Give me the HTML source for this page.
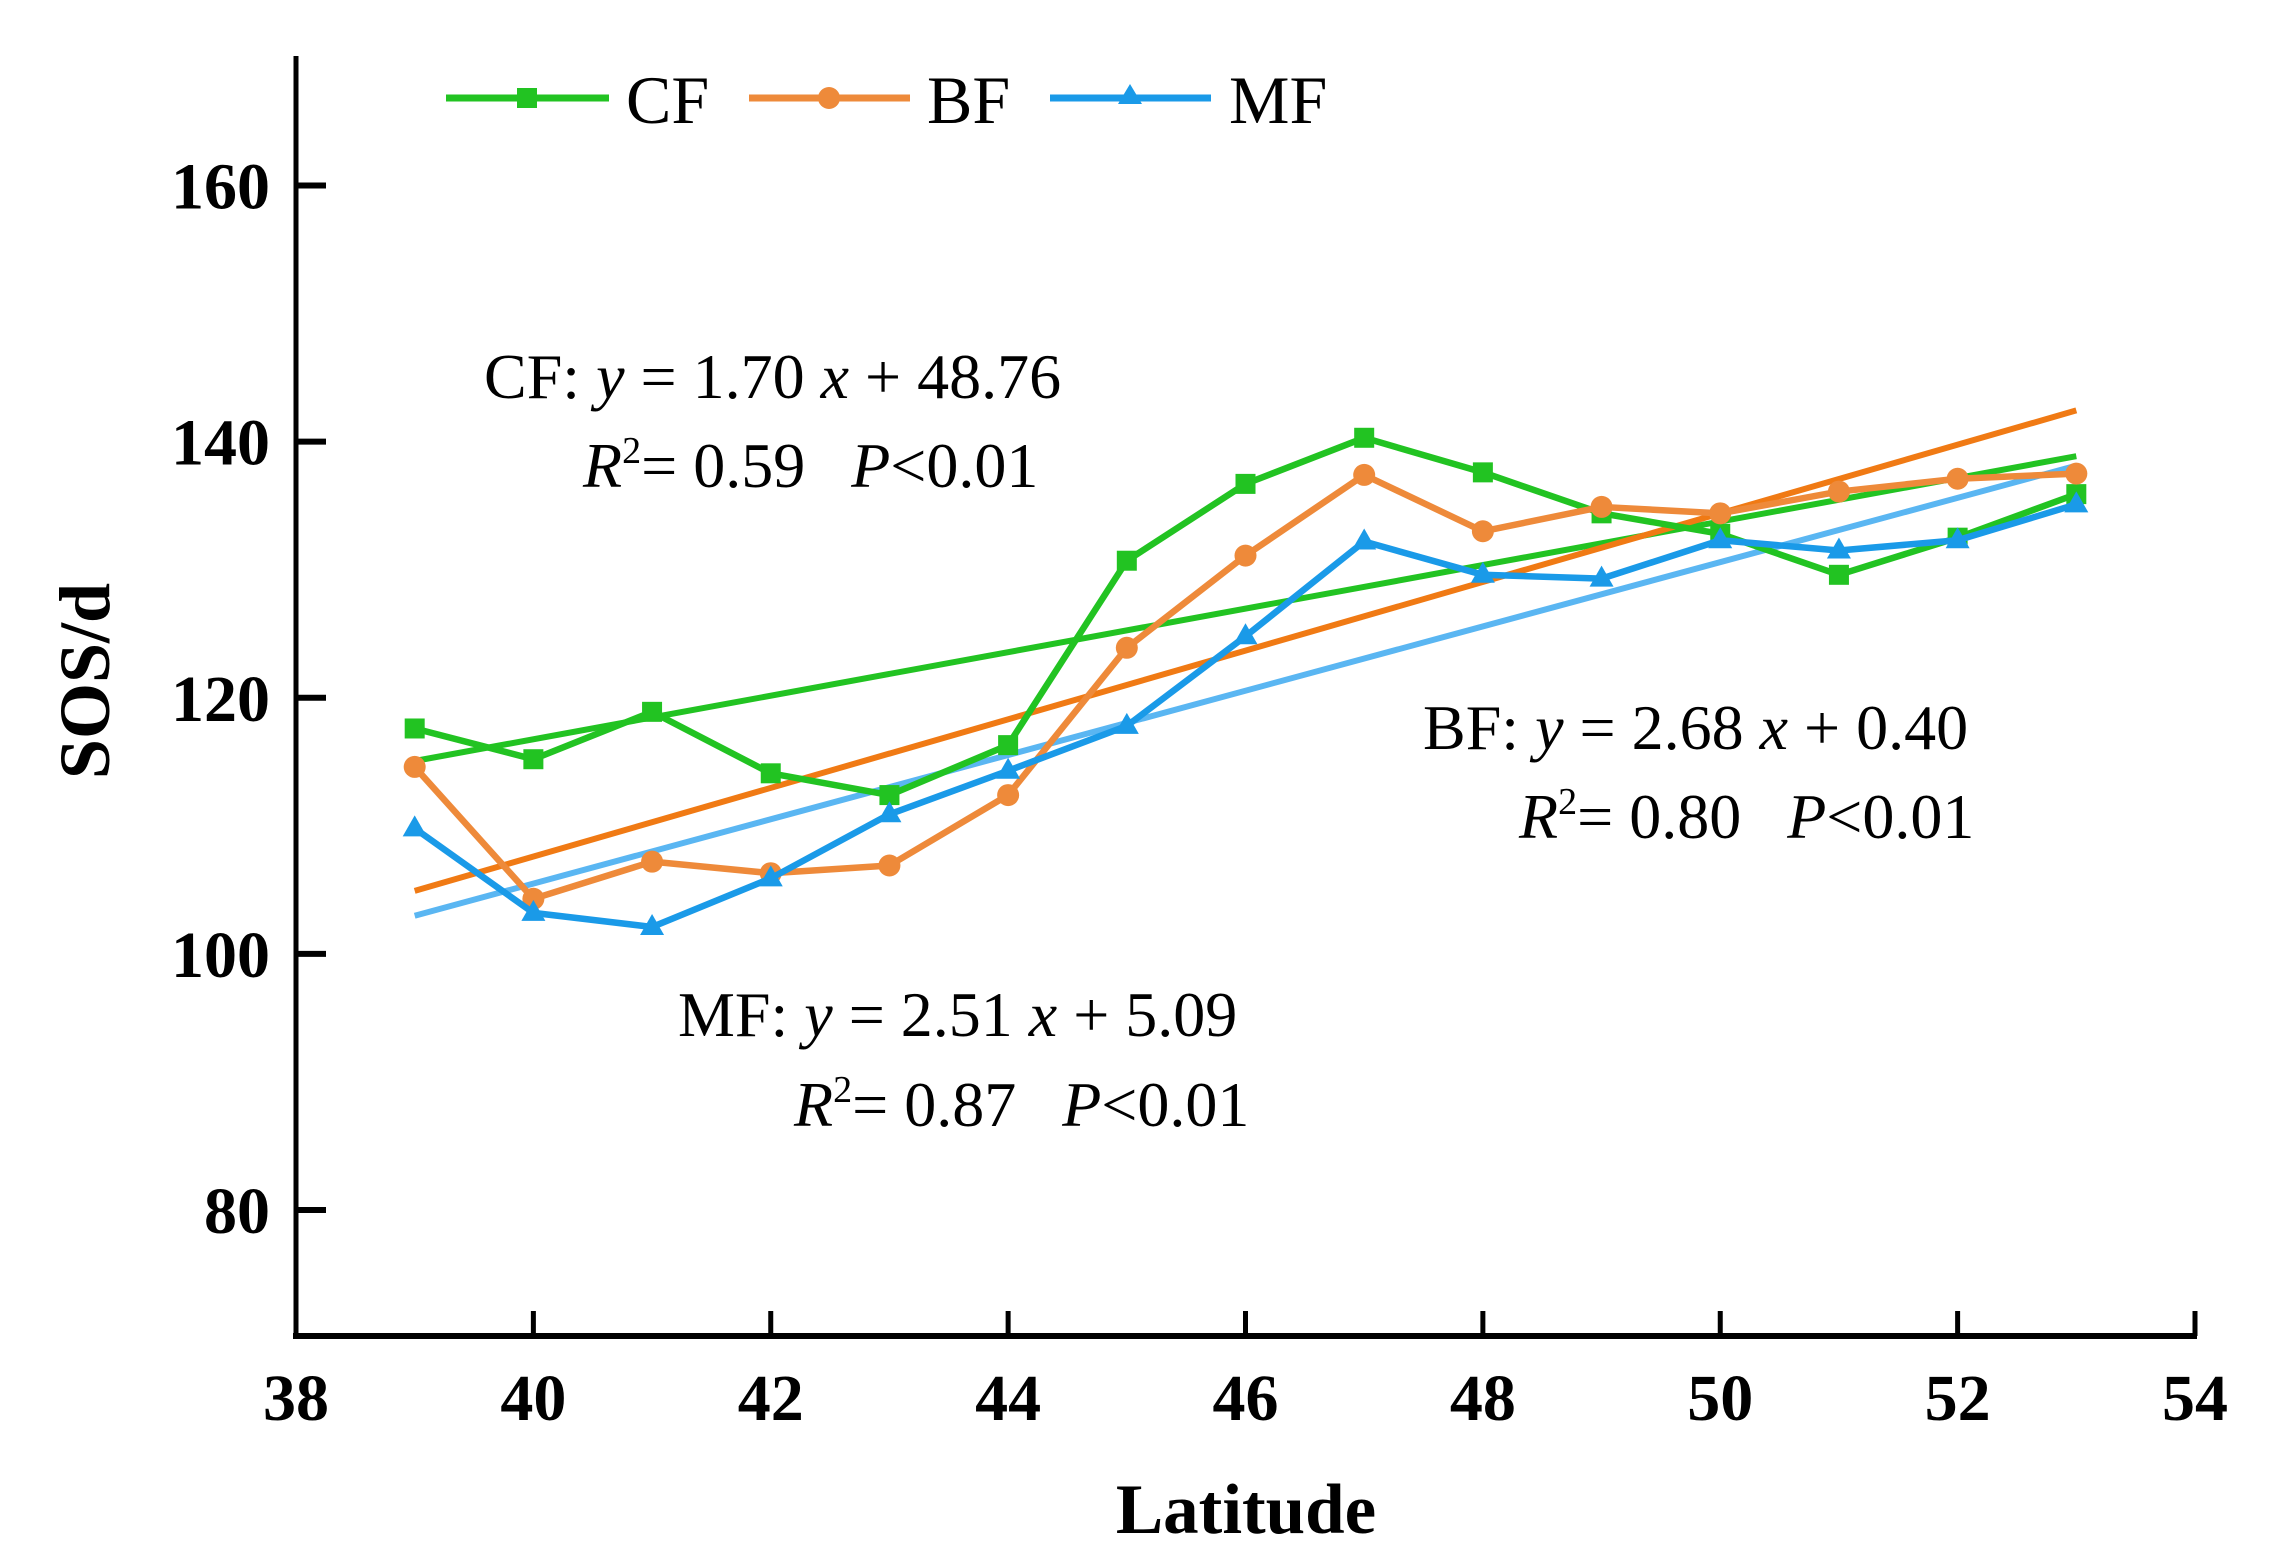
<!DOCTYPE html>
<html><head><meta charset="utf-8"><style>
html,body{margin:0;padding:0;background:#fff;}
svg{display:block;font-family:"Liberation Serif",serif;}
</style></head><body>
<svg id="chart" width="2272" height="1567" viewBox="0 0 2272 1567">
<g id="axes"></g>
<g id="trends"></g>
<g id="series"></g>
<g font-size="68">
 <g>
  <line x1="446" y1="98" x2="609" y2="98" stroke="#22c322" stroke-width="7"/>
  <rect x="517" y="88" width="20" height="20" fill="#22c322"/>
  <text x="626" y="123">CF</text></g>
 <g>
  <line x1="749" y1="98" x2="910" y2="98" stroke="#ee8a3a" stroke-width="7"/>
  <circle cx="829" cy="98" r="11" fill="#ee8a3a"/>
  <text x="927" y="123">BF</text></g>
 <g>
  <line x1="1050" y1="98" x2="1211" y2="98" stroke="#1a9ae8" stroke-width="7"/>
  <polygon points="1130,84 1142,104 1118,104" fill="#1a9ae8"/>
  <text x="1229" y="123">MF</text></g>
</g>
<g font-size="64">
 <text x="484" y="398">CF: <tspan font-style="italic">y</tspan> = 1.70 <tspan font-style="italic">x</tspan> + 48.76</text>
 <text x="583" y="487"><tspan font-style="italic">R</tspan><tspan font-size="38" dy="-24">2</tspan><tspan dy="24">= 0.59 </tspan><tspan font-style="italic" dx="30">P</tspan>&lt;0.01</text>
 <text x="1423" y="749">BF: <tspan font-style="italic">y</tspan> = 2.68 <tspan font-style="italic">x</tspan> + 0.40</text>
 <text x="1519" y="838"><tspan font-style="italic">R</tspan><tspan font-size="38" dy="-24">2</tspan><tspan dy="24">= 0.80 </tspan><tspan font-style="italic" dx="30">P</tspan>&lt;0.01</text>
 <text x="678" y="1036">MF: <tspan font-style="italic">y</tspan> = 2.51 <tspan font-style="italic">x</tspan> + 5.09</text>
 <text x="794" y="1126"><tspan font-style="italic">R</tspan><tspan font-size="38" dy="-24">2</tspan><tspan dy="24">= 0.87 </tspan><tspan font-style="italic" dx="30">P</tspan>&lt;0.01</text>
</g>
<text x="85" y="681" transform="rotate(-90 85 681)" text-anchor="middle" dominant-baseline="central" font-size="72" font-weight="bold">SOS/d</text>
<text x="1246" y="1533" text-anchor="middle" font-size="71" font-weight="bold">Latitude</text>
</svg>
<script>
const latitudes=[39,40,41,42,43,44,45,46,47,48,49,50,51,52,53];
const cfValues=[117.6,115.2,118.9,114.1,112.4,116.3,130.7,136.7,140.3,137.6,134.4,132.8,129.6,132.5,135.9];
const bfValues=[114.6,104.3,107.2,106.3,106.9,112.4,123.9,131.1,137.4,133.0,134.9,134.4,136.1,137.1,137.5];
const mfValues=[109.8,103.2,102.1,105.9,110.9,114.3,117.8,124.8,132.2,129.6,129.3,132.3,131.5,132.3,135.1];
const xTicks=[38,40,42,44,46,48,50,52,54];
const yTicks=[80,100,120,140,160];
const cfFit=[1.70,48.76];
const bfFit=[2.68,0.40];
const mfFit=[2.51,5.09];

const NS="http://www.w3.org/2000/svg";
function X(v){return 296+(v-38)*(2195-296)/16;}
function Y(v){return 1210-(v-80)*(1210-185.5)/80;}
function mk(tag,attrs,parent){const e=document.createElementNS(NS,tag);for(const k in attrs)e.setAttribute(k,attrs[k]);parent.appendChild(e);return e;}
const axes=document.getElementById('axes');
let a=mk('line',{x1:296,y1:56,x2:296,y2:1338,stroke:'#000','stroke-width':5},axes);


a=mk('line',{x1:293,y1:1336,x2:2197,y2:1336,stroke:'#000','stroke-width':6},axes);


xTicks.forEach(t=>{
 const l=mk('line',{x1:X(t),y1:1336,x2:X(t),y2:1311,stroke:'#000','stroke-width':5},axes);
 
 
 const tx=mk('text',{x:X(t),y:1420,'text-anchor':'middle','font-size':66,'font-weight':'bold'},axes);
 tx.textContent=t;
 
 
});
yTicks.forEach(t=>{
 const l=mk('line',{x1:296,y1:Y(t),x2:326,y2:Y(t),stroke:'#000','stroke-width':6},axes);
 
 
 const tx=mk('text',{x:270,y:Y(t)+23,'text-anchor':'end','font-size':66,'font-weight':'bold'},axes);
 tx.textContent=t;
 
 
});
const trends=document.getElementById('trends');
[[cfFit,'#22c322','cf-trend-line'],[bfFit,'#f07a14','bf-trend-line'],[mfFit,'#5ab6f2','mf-trend-line']].forEach(([f,c,n])=>{
 const x0=latitudes[0],x1=latitudes[latitudes.length-1];
 const l=mk('line',{x1:X(x0),y1:Y(f[0]*x0+f[1]),x2:X(x1),y2:Y(f[0]*x1+f[1]),stroke:c,'stroke-width':6},trends);
 
 
});
const series=document.getElementById('series');
[[cfValues,'#22c322','cf','sq'],[bfValues,'#ee8a3a','bf','ci'],[mfValues,'#1a9ae8','mf','tr']].forEach(([vals,c,n,m])=>{
 const p=mk('polyline',{points:vals.map((v,i)=>X(latitudes[i])+','+Y(v)).join(' '),fill:'none',stroke:c,'stroke-width':6.5,'stroke-linejoin':'round'},series);
 
 
 vals.forEach((v,i)=>{
  const x=X(latitudes[i]),y=Y(v);let e;
  if(m==='sq')e=mk('rect',{x:x-10,y:y-10,width:20,height:20,fill:c},series);
  else if(m==='ci')e=mk('circle',{cx:x,cy:y,r:11,fill:c},series);
  else e=mk('polygon',{points:`${x},${y-13} ${x+12},${y+8} ${x-12},${y+8}`,fill:c},series);
  
  
 });
});
</script>
</body></html>
